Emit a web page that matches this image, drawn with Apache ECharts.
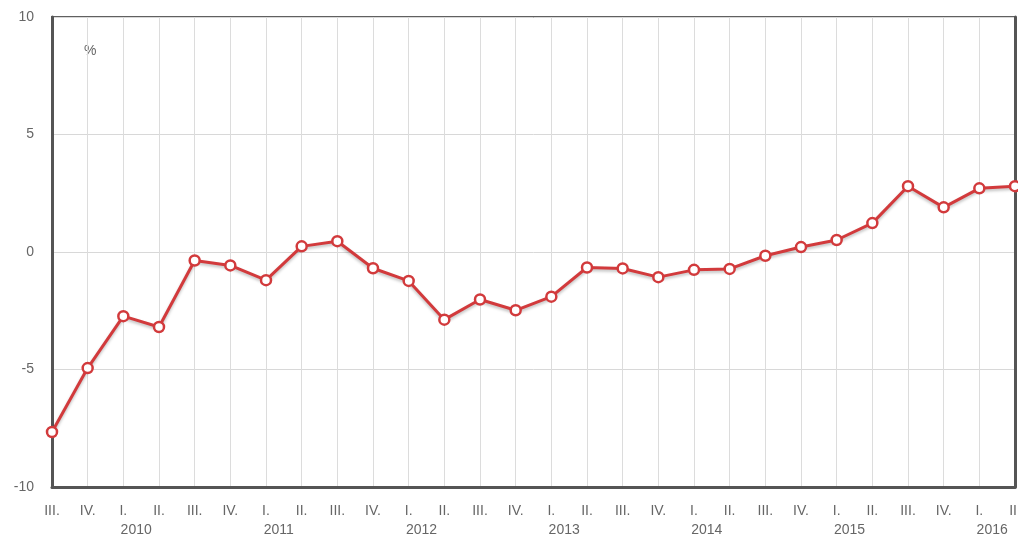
<!DOCTYPE html>
<html>
<head>
<meta charset="utf-8">
<script src="https://cdn.jsdelivr.net/npm/echarts@6/dist/echarts.min.js"></script>
<style>html,body{margin:0;padding:0;background:#fff;}#c{width:1018px;height:540px;}</style>
</head>
<body>
<div id="c"></div>
<script>
var quarters = ['III.','IV.','I.','II.','III.','IV.','I.','II.','III.','IV.','I.','II.','III.','IV.','I.','II.','III.','IV.','I.','II.','III.','IV.','I.','II.','III.','IV.','I.','II.'];
var values = [-7.66,-4.94,-2.73,-3.19,-0.36,-0.57,-1.2,0.24,0.46,-0.69,-1.23,-2.88,-2.02,-2.48,-1.9,-0.66,-0.7,-1.07,-0.76,-0.72,-0.16,0.21,0.51,1.23,2.8,1.9,2.71,2.8];
var years = ['2010','2011','2012','2013','2014','2015','2016'];
var yearStart = 2; // band index (between quarter I and II) of first year label
var yTicks = [-10,-5,0,5,10];

var yearBands = [];
for (var i = 0; i < quarters.length - 1; i++) yearBands.push('');
years.forEach(function (y, k) { yearBands[yearStart + k * 4] = y; });

var chart = echarts.init(document.getElementById('c'));
chart.setOption({
  animation: false,
  backgroundColor: '#fff',
  textStyle: { fontFamily: 'Liberation Sans, Arial, sans-serif' },
  grid: { left: 52, right: 3, top: 17, bottom: 53, outerBoundsMode: 'none', containLabel: false, show: true, borderColor: '#606060', borderWidth: 2, backgroundColor: 'transparent' },
  graphic: [{ type: 'text', left: 84, top: 44, style: { text: '%', fill: '#666', font: '14px Liberation Sans, Arial, sans-serif' } }],
  xAxis: [{
    type: 'category', data: quarters, boundaryGap: false,
    axisLine: { show: true, onZero: false, lineStyle: { color: '#555', width: 3 } },
    axisTick: { show: false },
    axisLabel: { interval: 0, color: '#666', fontSize: 14, margin: 17 },
    splitLine: { show: true, lineStyle: { color: '#dcdcdc', width: 1 } }
  }, {
    type: 'category', data: yearBands, boundaryGap: true, position: 'bottom', offset: 19,
    axisLine: { show: false, onZero: false }, axisTick: { show: false },
    axisLabel: { interval: 0, color: '#666', fontSize: 14, margin: 17, padding: [0, 10, 0, 0] },
    splitLine: { show: false }
  }],
  yAxis: [{
    type: 'value', min: yTicks[0], max: yTicks[yTicks.length - 1], interval: 5,
    axisLine: { show: true, onZero: false, lineStyle: { color: '#555', width: 3 } },
    axisTick: { show: false },
    axisLabel: { color: '#666', fontSize: 14, margin: 18 },
    splitLine: { show: true, lineStyle: { color: '#d8d8d8', width: 1 } }
  }, {
    type: 'value', position: 'right', min: yTicks[0], max: yTicks[yTicks.length - 1], interval: 5,
    axisLine: { show: true, onZero: false, lineStyle: { color: '#555', width: 3 } },
    axisTick: { show: false }, axisLabel: { show: false }, splitLine: { show: false }
  }],
  series: [{
    type: 'line', data: values, xAxisIndex: 0, yAxisIndex: 0,
    symbol: 'circle', symbolSize: 10,
    lineStyle: { color: '#d23a3c', width: 3, shadowColor: 'rgba(0,0,0,0.25)', shadowBlur: 3, shadowOffsetY: 2 },
    itemStyle: { color: '#fff', borderColor: '#d23a3c', borderWidth: 2.5 },
    z: 5
  }]
});
</script>
</body>
</html>
